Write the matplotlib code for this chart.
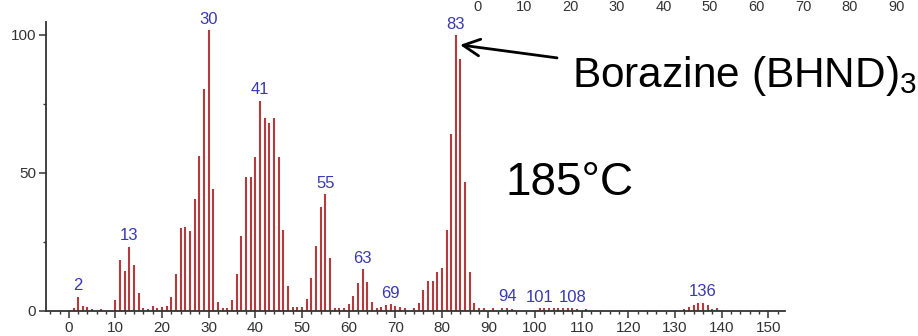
import matplotlib
matplotlib.use("Agg")
import matplotlib.pyplot as plt
from matplotlib import font_manager
from matplotlib.ticker import MultipleLocator

# m/z and relative intensity of each line in the spectrum
mz = [1, 2, 3, 4, 5, 7,
      10, 11, 12, 13, 14, 15, 16, 17, 18, 19, 20, 21, 22, 23, 24, 25, 26, 27, 28, 29,
      30, 31, 32, 33, 34, 35, 36, 37, 38, 39, 40, 41, 42, 43, 44, 45, 46, 47, 48, 49,
      50, 51, 52, 53, 54, 55, 56, 57, 58, 59, 60, 61, 62, 63, 64, 65, 66, 67, 68, 69,
      70, 71, 72, 74, 75, 76, 77, 78, 79, 80, 81, 82, 83, 84, 85, 86, 87, 88, 89,
      91, 93, 94, 95, 101, 102, 103, 104, 105, 106, 107, 108, 109, 111,
      132, 133, 134, 135, 136, 137, 138, 139]
intensity = [1.0, 5.1, 1.8, 1.3, 0.8, 0.8,
             4.1, 18.6, 14.5, 23.2, 16.7, 6.4, 1.2, 0.9, 1.8, 1.0, 1.3, 1.8, 5.1, 13.3,
             30.0, 30.5, 29.0, 40.5, 56.0, 80.3,
             101.8, 44.2, 3.4, 1.0, 1.0, 4.0, 13.3, 27.3, 48.7, 48.7, 55.8, 76.1, 70.0,
             68.2, 70.1, 55.9, 29.4, 9.2, 1.6, 1.3,
             1.6, 4.4, 11.9, 23.6, 37.6, 42.3, 19.3, 1.0, 1.0, 1.0, 2.5, 5.4, 10.0, 15.2,
             10.4, 3.4, 1.0, 1.3, 2.0, 2.4,
             1.9, 1.3, 1.0, 1.0, 3.0, 7.6, 11.0, 11.0, 14.3, 15.7, 29.3, 64.0, 100.0,
             91.2, 46.6, 14.3, 3.0, 1.0, 1.0,
             1.0, 1.0, 1.2, 0.8, 1.0, 1.0, 1.0, 1.0, 1.0, 1.0, 1.0, 1.0, 0.6, 0.6,
             0.8, 1.3, 2.2, 2.8, 3.0, 2.2, 0.8, 1.0]

# lines that get their m/z written above them
labelled_peaks = [2, 13, 30, 41, 55, 63, 69, 83, 94, 101, 108, 136]

# scale of the neighbouring plot that pokes in along the top edge
top_scale_labels = ["0", "10", "20", "30", "40", "50", "60", "70", "80", "90"]

LINE_RED = "#b53a3e"
LABEL_BLUE = "#3838b4"
AXIS_GREY = "#333333"


def pick_font(names):
    for name in names:
        try:
            font_manager.findfont(name, fallback_to_default=False)
            return name
        except ValueError:
            continue
    return "DejaVu Sans"


base_font = pick_font(["Liberation Sans", "Arial"])
plt.rcParams["font.family"] = base_font

W, H = 918, 336
fig = plt.figure(figsize=(W / 100, H / 100), dpi=100)

# pixel frame of the plotting area
x0_px, x1_px = 46, 785
y0_px, y1_px = 311, 22
ax = fig.add_axes([x0_px / W, 1 - y0_px / H, (x1_px - x0_px) / W, (y0_px - y1_px) / H])

ax.vlines(mz, 0, intensity, color=LINE_RED, lw=1.5)

ax.set_xlim(-4.9, 153.6)
ax.set_ylim(0, 104.7)
for side in ("top", "right"):
    ax.spines[side].set_visible(False)
for side in ("left", "bottom"):
    ax.spines[side].set_color(AXIS_GREY)
    ax.spines[side].set_linewidth(1.3)

ax.xaxis.set_major_locator(MultipleLocator(10))
ax.xaxis.set_minor_locator(MultipleLocator(2))
ax.yaxis.set_major_locator(MultipleLocator(50))
ax.yaxis.set_minor_locator(MultipleLocator(25))
ax.tick_params(which="major", direction="out", length=5, width=1.1, color=AXIS_GREY,
               labelsize=11, labelcolor=AXIS_GREY, pad=2)
ax.tick_params(which="minor", direction="out", length=2.5, width=1.0, color=AXIS_GREY)

lookup = dict(zip(mz, intensity))
for peak in labelled_peaks:
    ax.annotate(str(peak), (peak, lookup[peak]), xytext=(0, 2.5),
                textcoords="offset points", ha="center", va="bottom",
                fontsize=12, color=LABEL_BLUE)

# arrow pointing at the base peak
ax.annotate("", xy=(83.9, 96.4), xytext=(104.7, 91.7),
            arrowprops=dict(arrowstyle="->", color="black", lw=2, mutation_scale=30,
                            shrinkA=0, shrinkB=0))

ax.text(107.9, 81.0, r"Borazine (BHND)$_{\mathregular{3}}$", fontsize=30.5,
        color="black", ha="left", va="baseline")
ax.text(93.6, 42.0, "185\u00b0C", fontsize=33, color="black",
        ha="left", va="baseline")

for i, lab in enumerate(top_scale_labels):
    fig.text((477 + 46.6 * i) / W, 1 - 7 / H, lab, ha="center", va="center",
             fontsize=10.5, color=AXIS_GREY)

fig.savefig("out.png", dpi=100)
